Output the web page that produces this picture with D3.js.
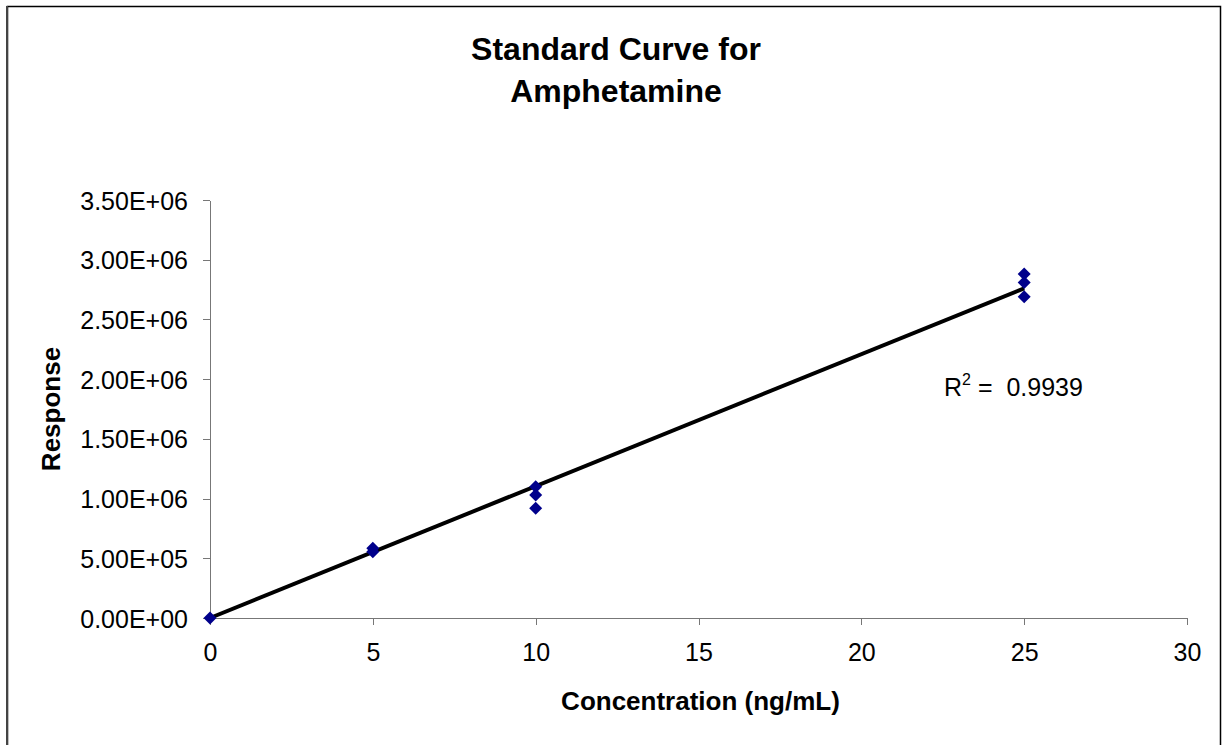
<!DOCTYPE html>
<meta charset="utf-8">
<style>
body { margin: 0; background: #fff; }
svg { font-family: "Liberation Sans", Arial, sans-serif; }
.axis path, .axis line { stroke: #777; shape-rendering: crispEdges; }
.axis text { font-size: 25px; fill: #000; }
</style>
<svg width="1228" height="745"></svg>
<script src="https://d3js.org/d3.v7.min.js"></script>
<script>

// readings
var concentration = [0, 5, 5, 10, 10, 10, 25, 25, 25];
var response = [0, 585000, 555000, 1100000, 1030000, 920000, 2880000, 2810000, 2690000];
var xTicks = [0, 5, 10, 15, 20, 25, 30];
var yTicks = [0, 500000, 1000000, 1500000, 2000000, 2500000, 3000000, 3500000];
var rSquared = "0.9939";

var svg = d3.select("svg"),
    margin = {top: 200, right: 41, bottom: 127, left: 210},
    width = 1228 - margin.left - margin.right,
    height = 745 - margin.top - margin.bottom;

// outer chart frame
svg.append("rect")
    .attr("x", 7.5).attr("y", 6.5)
    .attr("width", 1213).attr("height", 760)
    .attr("fill", "none")
    .attr("stroke", "#000")
    .attr("stroke-width", 1.5);
svg.append("line")
    .attr("x1", 7).attr("y1", 6).attr("x2", 7).attr("y2", 745)
    .attr("stroke", "#444").attr("stroke-width", 2);

var x = d3.scaleLinear().domain([0, 30]).range([0, width]),
    y = d3.scaleLinear().domain([0, 3500000]).range([height, 0]);

var g = svg.append("g")
    .attr("transform", "translate(" + margin.left + "," + margin.top + ")");

g.append("g")
    .attr("class", "axis axis--x")
    .attr("transform", "translate(0," + height + ")")
    .call(d3.axisBottom(x).tickValues(xTicks).tickSize(7).tickSizeOuter(0).tickPadding(18));

g.append("g")
    .attr("class", "axis axis--y")
    .call(d3.axisLeft(y).tickValues(yTicks).tickSize(7).tickSizeOuter(0).tickPadding(15)
      .tickFormat(function(d) {
        var e = d === 0 ? 0 : Math.floor(Math.log10(d));
        var m = d / Math.pow(10, e);
        return m.toFixed(2) + "E+" + (e < 10 ? "0" : "") + e;
      }))
    .selectAll("text").attr("dy", "0.36em");

// linear trend line through the origin
var slope = d3.sum(concentration, function(c, i) { return c * response[i]; }) /
            d3.sum(concentration, function(c) { return c * c; });

var xMin = d3.min(concentration), xMax = d3.max(concentration);
g.append("line")
    .attr("x1", x(xMin)).attr("y1", y(slope * xMin))
    .attr("x2", x(xMax)).attr("y2", y(slope * xMax))
    .attr("stroke", "#000")
    .attr("stroke-width", 4);

g.selectAll("path.pt")
    .data(concentration)
    .enter()
    .append("path")
    .attr("class", "pt")
    .attr("d", "M0,-6.5L6.5,0L0,6.5L-6.5,0Z")
    .attr("transform", function(d, i) { return "translate(" + x(d) + "," + y(response[i]) + ")"; })
    .attr("fill", "#00008b");

// R squared label
var rt = g.append("text")
    .attr("x", 944 - margin.left).attr("y", 396 - margin.top)
    .attr("font-size", 25)
    .attr("fill", "#000")
    .attr("xml:space", "preserve");
rt.append("tspan").text("R");
rt.append("tspan").attr("dy", -11).attr("font-size", 16).text("2");
rt.append("tspan").attr("dy", 11).text(" =  " + rSquared);

// titles
var title = svg.append("text")
    .attr("text-anchor", "middle")
    .attr("font-size", 32)
    .attr("font-weight", "bold");
title.append("tspan").attr("x", 616).attr("y", 60).text("Standard Curve for");
title.append("tspan").attr("x", 616).attr("y", 102).text("Amphetamine");

svg.append("text")
    .attr("x", margin.left + width / 2 + 2).attr("y", 710)
    .attr("text-anchor", "middle")
    .attr("font-size", 26)
    .attr("font-weight", "bold")
    .text("Concentration (ng/mL)");

svg.append("text")
    .attr("transform", "translate(60,409) rotate(-90)")
    .attr("text-anchor", "middle")
    .attr("font-size", 26)
    .attr("font-weight", "bold")
    .text("Response");

</script>
